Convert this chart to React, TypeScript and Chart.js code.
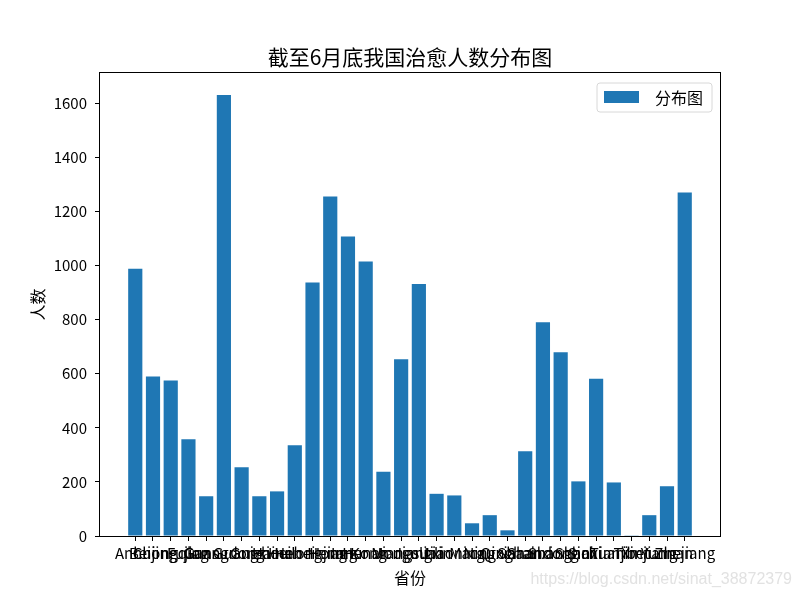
import React, { useEffect, useRef } from "react";
import { Chart, registerables } from "chart.js";

Chart.register(...registerables);

const provinces = [
  "Anhui", "Beijing", "Chongqing", "Fujian", "Gansu", "Guangdong", "Guangxi", "Guizhou",
  "Hainan", "Hebei", "Heilongjiang", "Henan", "Hong Kong", "Hunan", "Inner Mongolia", "Jiangsu",
  "Jiangxi", "Jilin", "Liaoning", "Macau", "Ningxia", "Qinghai", "Shaanxi", "Shandong",
  "Shanghai", "Shanxi", "Sichuan", "Tianjin", "Tibet", "Xinjiang", "Yunnan", "Zhejiang",
];

const cured = [
  988, 590, 575, 358, 147, 1631, 254, 147,
  165, 336, 937, 1255, 1107, 1015, 238, 654,
  932, 156, 150, 47, 77, 21, 313, 790,
  679, 202, 581, 198, 1, 77, 184, 1270,
];

const yTicks = [0, 200, 400, 600, 800, 1000, 1200, 1400, 1600];

const chartTitle = "截至6月底我国治愈人数分布图";
const seriesLabel = "分布图";
const xTitle = "省份";
const yTitle = "人数";
const watermark = "https://blog.csdn.net/sinat_38872379";

const FONT = "'Noto Sans CJK SC', 'Noto Sans', sans-serif";
const BLUE = "#1f77b4";

export default function App() {
  const ref = useRef<HTMLCanvasElement | null>(null);

  useEffect(() => {
    document.body.style.margin = "0";
    const canvas = ref.current;
    if (!canvas) return;

    const n = provinces.length;
    const xMin = -0.4 - (n - 1 + 0.8) * 0.05;
    const xMax = n - 1 + 0.4 + (n - 1 + 0.8) * 0.05;

    const decor = {
      id: "decor",
      afterDraw(chart: any) {
        const { ctx, chartArea } = chart;
        const { left, right, top, bottom } = chartArea;
        ctx.save();
        // frame
        ctx.strokeStyle = "#000";
        ctx.lineWidth = 1;
        ctx.strokeRect(left - 0.5, top - 0.5, right - left + 1, bottom - top + 1);
        // title
        ctx.fillStyle = "#000";
        ctx.font = `21px ${FONT}`;
        ctx.textAlign = "center";
        ctx.textBaseline = "middle";
        ctx.fillText(chartTitle, (left + right) / 2, top - 16);
        // legend
        const lx = right - 123;
        const ly = top + 10;
        const lw = 115;
        const lh = 29;
        ctx.beginPath();
        const r = 3;
        ctx.moveTo(lx + r, ly);
        ctx.arcTo(lx + lw, ly, lx + lw, ly + lh, r);
        ctx.arcTo(lx + lw, ly + lh, lx, ly + lh, r);
        ctx.arcTo(lx, ly + lh, lx, ly, r);
        ctx.arcTo(lx, ly, lx + lw, ly, r);
        ctx.closePath();
        ctx.fillStyle = "rgba(255,255,255,0.8)";
        ctx.fill();
        ctx.strokeStyle = "#d8d8d8";
        ctx.stroke();
        ctx.fillStyle = BLUE;
        ctx.fillRect(lx + 7, ly + 8, 35, 12);
        ctx.fillStyle = "#000";
        ctx.font = `16px ${FONT}`;
        ctx.textAlign = "left";
        ctx.textBaseline = "middle";
        ctx.fillText(seriesLabel, lx + 58, ly + 14.5);
        // watermark
        ctx.fillStyle = "#e2e2e2";
        ctx.font = `16px 'Liberation Sans', Arial, sans-serif`;
        ctx.textAlign = "right";
        ctx.fillText(watermark, 792, 580);
        ctx.restore();
      },
    };

    const chart = new Chart(canvas, {
      type: "bar",
      data: {
        datasets: [
          {
            label: seriesLabel,
            data: cured.map((v, i) => ({ x: i, y: v })),
            backgroundColor: BLUE,
            borderWidth: 0,
            barPercentage: 0.8,
            categoryPercentage: 1.0,
          },
        ],
      },
      options: {
        responsive: false,
        animation: false,
        layout: { padding: { top: 73, right: 80, bottom: 0, left: 0 } },
        plugins: {
          legend: { display: false },
          title: { display: false },
          tooltip: { enabled: false },
        },
        scales: {
          x: {
            type: "linear",
            min: xMin,
            max: xMax,
            offset: false,
            grid: {
              offset: false,
              drawOnChartArea: false,
              drawTicks: true,
              tickLength: 5,
              tickColor: "#000",
            },
            border: { display: false },
            afterBuildTicks: (axis: any) => {
              axis.ticks = provinces.map((_, i) => ({ value: i }));
            },
            afterFit: (axis: any) => {
              axis.height = 64;
            },
            ticks: {
              autoSkip: false,
              maxRotation: 0,
              minRotation: 0,
              padding: 3,
              color: "#000",
              font: { family: FONT, size: 15 },
              callback: (value: any) => provinces[Math.round(Number(value))] ?? "",
            },
            title: {
              display: true,
              text: xTitle,
              color: "#000",
              font: { family: FONT, size: 16 },
              padding: { top: 0, bottom: 12 },
            },
          },
          y: {
            type: "linear",
            min: 0,
            max: 1712,
            grid: {
              drawOnChartArea: false,
              drawTicks: true,
              tickLength: 5,
              tickColor: "#000",
            },
            border: { display: false },
            afterBuildTicks: (axis: any) => {
              axis.ticks = yTicks.map((v) => ({ value: v }));
            },
            afterFit: (axis: any) => {
              axis.width = 100;
            },
            ticks: {
              padding: 8,
              color: "#000",
              font: { family: FONT, size: 15 },
              callback: (value: any) => String(value),
            },
            title: {
              display: true,
              text: yTitle,
              color: "#000",
              font: { family: FONT, size: 16 },
              padding: { top: 28, bottom: 0 },
            },
          },
        },
      },
      plugins: [decor],
    });

    return () => chart.destroy();
  }, []);

  return (
    <div style={{ width: 800, height: 600, background: "#fff" }}>
      <canvas ref={ref} width={800} height={600} style={{ display: "block" }} />
    </div>
  );
}
